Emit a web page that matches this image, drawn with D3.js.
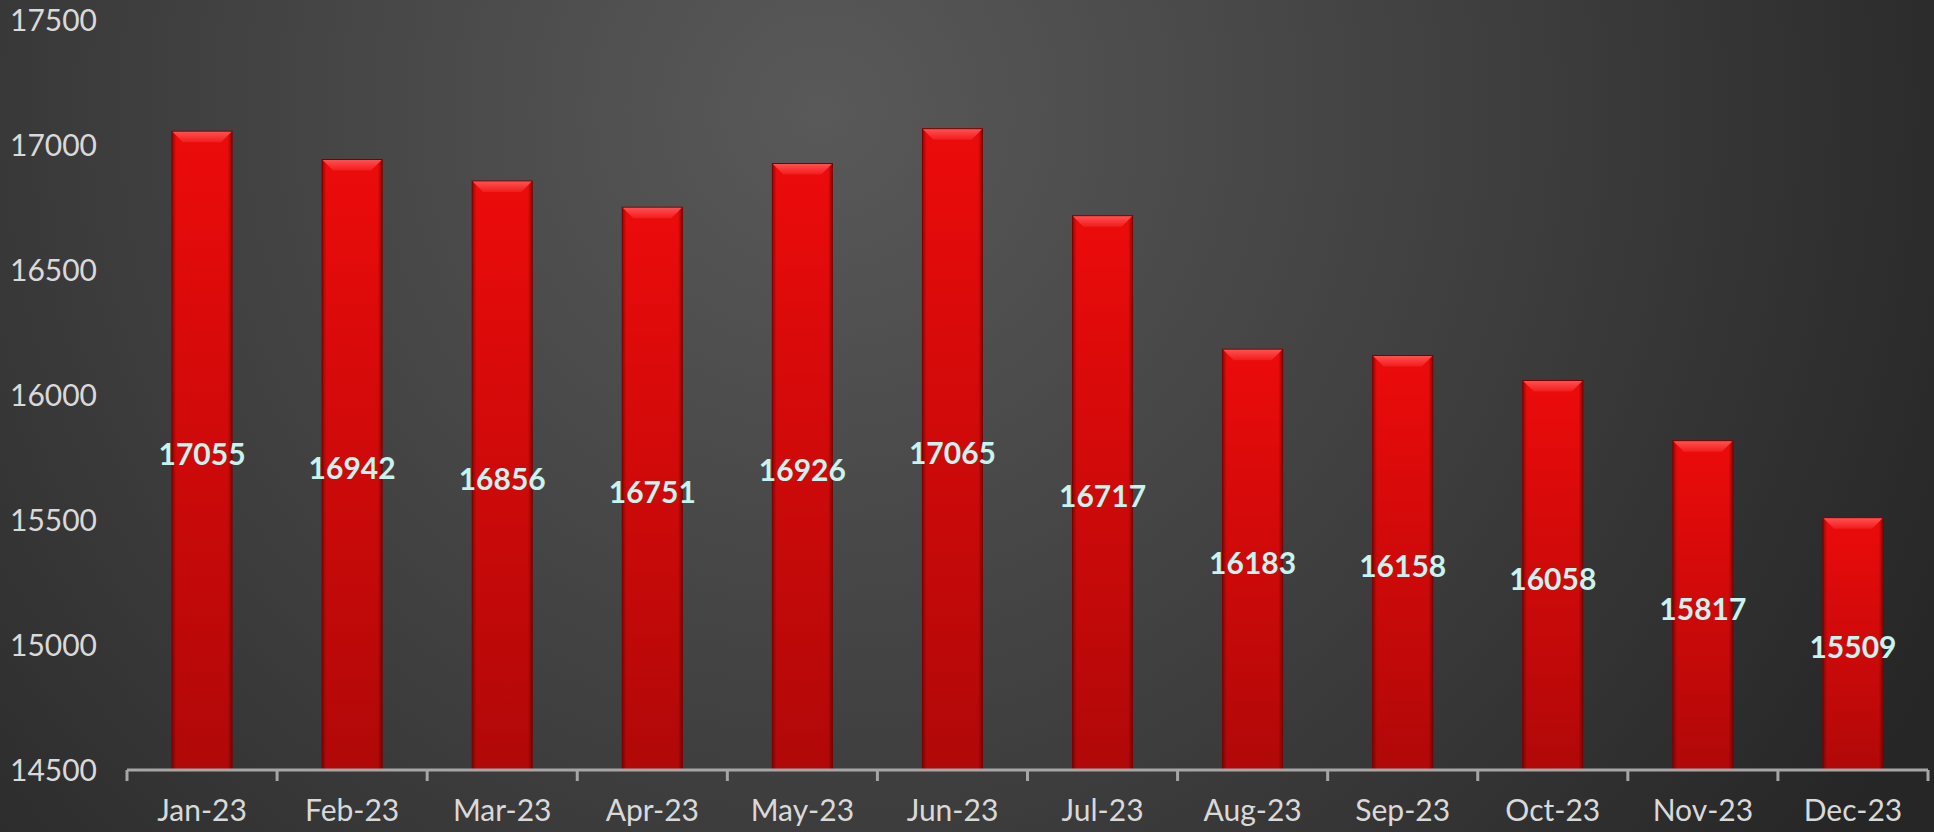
<!DOCTYPE html>
<html><head><meta charset="utf-8">
<script src="https://cdn.jsdelivr.net/npm/d3@7"></script>
<style>html,body{margin:0;padding:0;background:#333;}svg{display:block;}</style>
</head><body>
<svg id="chart" width="1934" height="832"></svg>
<script>
const months = ["Jan-23","Feb-23","Mar-23","Apr-23","May-23","Jun-23","Jul-23","Aug-23","Sep-23","Oct-23","Nov-23","Dec-23"];
const values = [17055,16942,16856,16751,16926,17065,16717,16183,16158,16058,15817,15509];
const yTicks = [14500,15000,15500,16000,16500,17000,17500];

const W = 1934, H = 832;
const svg = d3.select("#chart");
const defs = svg.append("defs");

const bg = defs.append("radialGradient").attr("id","bg").attr("gradientUnits","userSpaceOnUse")
  .attr("cx",820).attr("cy",110).attr("r",1250);
bg.append("stop").attr("offset","0").attr("stop-color","#595959");
bg.append("stop").attr("offset","0.55").attr("stop-color","#3e3e3e");
bg.append("stop").attr("offset","1").attr("stop-color","#262626");
svg.append("rect").attr("width",W).attr("height",H).attr("fill","url(#bg)");

const gBar = defs.append("linearGradient").attr("id","barg").attr("x1",0).attr("y1",0).attr("x2",0).attr("y2",1);
gBar.append("stop").attr("offset","0").attr("stop-color","#ec0b0b");
gBar.append("stop").attr("offset","1").attr("stop-color","#b10808");
const gSide = defs.append("linearGradient").attr("id","side").attr("x1",0).attr("y1",0).attr("x2",1).attr("y2",0);
gSide.append("stop").attr("offset","0").attr("stop-color","#500000").attr("stop-opacity",0.55);
gSide.append("stop").attr("offset","0.07").attr("stop-color","#500000").attr("stop-opacity",0);
gSide.append("stop").attr("offset","0.93").attr("stop-color","#500000").attr("stop-opacity",0);
gSide.append("stop").attr("offset","1").attr("stop-color","#500000").attr("stop-opacity",0.6);
const gTop = defs.append("linearGradient").attr("id","topg").attr("x1",0).attr("y1",0).attr("x2",0).attr("y2",1);
gTop.append("stop").attr("offset","0").attr("stop-color","#ff5050");
gTop.append("stop").attr("offset","1").attr("stop-color","#f21c1c");

const x = d3.scaleBand().domain(months).range([127,1928]).paddingInner(0.6).paddingOuter(0.3);
const y = d3.scaleLinear().domain([14500,17500]).range([770,20]);

const font = "Lato, 'Liberation Sans', sans-serif";

// y labels
svg.append("g").selectAll("text").data(yTicks).join("text")
  .attr("x",97).attr("y",d=>y(d)).attr("dy","0.36em").attr("text-anchor","end")
  .attr("font-family",font).attr("font-size",30).attr("fill","#d9d9d9").text(d=>d);

// bars
const bars = svg.append("g").selectAll("g").data(months).join("g");
const bw = x.bandwidth();
bars.append("rect").attr("x",d=>x(d)).attr("y",(d,i)=>y(values[i])).attr("width",bw)
  .attr("height",(d,i)=>y(14500)-y(values[i])).attr("fill","url(#barg)");
bars.append("rect").attr("x",d=>x(d)).attr("y",(d,i)=>y(values[i])).attr("width",bw)
  .attr("height",(d,i)=>y(14500)-y(values[i])).attr("fill","url(#side)")
  .attr("stroke","#7a0000").attr("stroke-width",1);
const b = 11;
bars.append("path").attr("d",(d,i)=>{
  const x0 = x(d), x1 = x(d)+bw, y0 = y(values[i]);
  return `M${x0+0.5},${y0+0.5}L${x1-0.5},${y0+0.5}L${x1-b},${y0+b}L${x0+b},${y0+b}Z`;
}).attr("fill","url(#topg)");

// axis
const axis = svg.append("g").attr("transform",`translate(0,${y(14500)})`)
  .call(d3.axisBottom(x).tickSize(0).tickPadding(30));
axis.select(".domain").remove();
axis.selectAll("text").attr("font-family",font).attr("font-size",30).attr("fill","#d9d9d9");
const edges = months.map(m=>x(m)-x.step()*x.paddingInner()/2).concat([1928]);
svg.append("line").attr("x1",127).attr("x2",1928).attr("y1",y(14500)).attr("y2",y(14500))
  .attr("stroke","#a6a6a6").attr("stroke-width",3);
svg.append("g").selectAll("line").data(edges).join("line")
  .attr("x1",d=>d).attr("x2",d=>d).attr("y1",y(14500)).attr("y2",y(14500)+11)
  .attr("stroke","#a6a6a6").attr("stroke-width",3);

// data labels
svg.append("g").selectAll("text").data(months).join("text")
  .attr("x",d=>x(d)+bw/2).attr("y",(d,i)=>(y(values[i])+y(14500))/2).attr("dy","0.48em")
  .attr("text-anchor","middle").attr("font-family",font).attr("font-weight","bold")
  .attr("font-size",30).attr("fill","#c9f3ee").text((d,i)=>values[i]);
</script>
</body></html>
